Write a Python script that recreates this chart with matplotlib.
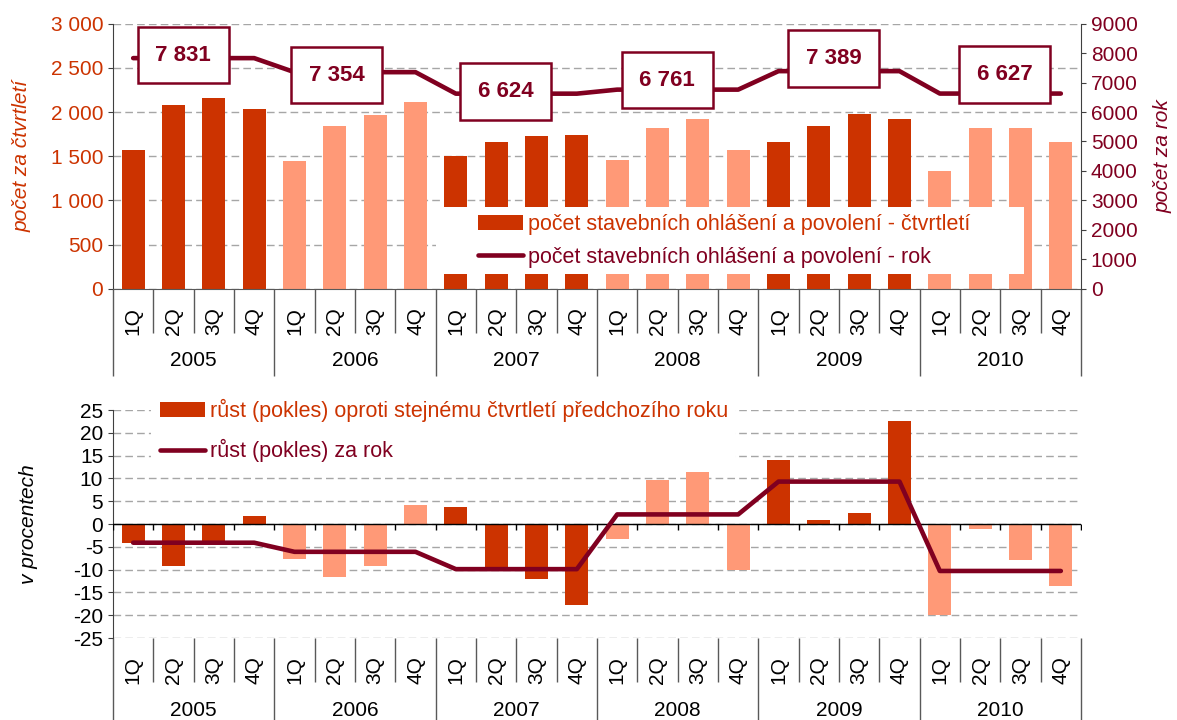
import matplotlib
matplotlib.use('Agg')
import matplotlib.pyplot as plt
from matplotlib.patches import Rectangle, Patch
from matplotlib.lines import Line2D
from matplotlib.ticker import FuncFormatter
import numpy as np

plt.rcParams['font.family'] = ['Liberation Sans', 'DejaVu Sans']
plt.rcParams['axes.unicode_minus'] = False

# ---------------- data ----------------
quarters = ['1Q', '2Q', '3Q', '4Q']
years = ['2005', '2006', '2007', '2008', '2009', '2010']
quarterly_count = [1566, 2077, 2155, 2033,
                   1443, 1838, 1962, 2111,
                   1500, 1659, 1726, 1739,
                   1455, 1817, 1919, 1570,
                   1658, 1838, 1974, 1919,
                   1331, 1818, 1818, 1660]
annual_count = [7831, 7354, 6624, 6761, 7389, 6627]
quarterly_growth = [-4.1, -9.3, -4.3, 1.8,
                    -7.6, -11.7, -9.3, 4.2,
                    3.7, -9.7, -12.0, -17.7,
                    -3.2, 9.6, 11.4, -10.0,
                    14.0, 0.9, 2.4, 22.5,
                    -20.0, -1.0, -7.9, -13.6]
annual_growth = [-4.1, -6.1, -9.9, 2.1, 9.3, -10.3]

label_q = 'počet stavebních ohlášení a povolení - čtvrtletí'
label_y = 'počet stavebních ohlášení a povolení - rok'
label_gq = 'růst (pokles) oproti stejnému čtvrtletí předchozího roku'
label_gy = 'růst (pokles) za rok'

# ---------------- style ----------------
DARK = '#CC3300'
LIGHT = '#FF9977'
WINE = '#800020'
GRID = '#A6A6A6'
AXC = '#404040'
FS = 15
W, H = 1177, 720

fig = plt.figure(figsize=(W / 100, H / 100), dpi=100)


def px_axes(x0, y0, x1, y1):
    return fig.add_axes([x0 / W, 1 - y1 / H, (x1 - x0) / W, (y1 - y0) / H])


nq = len(quarters)
n = len(years) * nq
x = np.arange(n)
bar_colors = [DARK if (i // nq) % 2 == 0 else LIGHT for i in range(n)]
annual_count_q = np.repeat(annual_count, nq)
annual_growth_q = np.repeat(annual_growth, nq)
bounds = np.arange(-0.5, n, 1.0)
BW = 0.57
PT = 0.72  # points per pixel


def category_axis(ax):
    ax.set_xlim(-0.5, n - 0.5)
    ax.set_xticks(bounds[::nq])
    ax.set_xticks(bounds, minor=True)
    ax.set_xticklabels([])
    ax.tick_params(axis='x', which='major', direction='out', length=87 * PT,
                   width=1, color='#595959')
    ax.tick_params(axis='x', which='minor', direction='out', length=44 * PT,
                   width=1, color='#595959')
    for i in range(n):
        ax.annotate(quarters[i % nq], xy=(i, 0), xycoords=('data', 'axes fraction'),
                    xytext=(0, -32 * PT), textcoords='offset points', rotation=90,
                    ha='center', va='center', fontsize=FS, color='black')
    for k, yr in enumerate(years):
        ax.annotate(yr, xy=(k * nq + (nq - 1) / 2, 0), xycoords=('data', 'axes fraction'),
                    xytext=(0, -72 * PT), textcoords='offset points',
                    ha='center', va='center', fontsize=FS, color='black')


def ylabel_at(ax, text, xpx, color):
    ax.text((xpx - 113) / 968, 0.5, text, transform=ax.transAxes, rotation=90,
            ha='center', va='center', fontsize=FS, style='italic', color=color)


# ---------------- top chart ----------------
ax1 = px_axes(113, 23.7, 1081, 288.7)
ax1.bar(x, quarterly_count, width=BW, color=bar_colors, zorder=2)
ax1.set_ylim(0, 3000)
ax1.set_yticks(np.arange(0, 3001, 500))
ax1.yaxis.set_major_formatter(FuncFormatter(lambda v, p: f'{int(v):,}'.replace(',', ' ')))
ax1.tick_params(axis='y', direction='out', length=5 * PT, color=AXC,
                labelcolor=DARK, labelsize=FS)
ax1.yaxis.grid(True, linestyle=(0, (5.5, 3)), color=GRID, lw=1)
ax1.set_axisbelow(True)
for s in ['top', 'right']:
    ax1.spines[s].set_visible(False)
ax1.spines['left'].set_color(AXC)
ax1.spines['bottom'].set_color('#595959')
category_axis(ax1)
ylabel_at(ax1, 'počet za čtvrtletí', 22, DARK)

ax2 = ax1.twinx()
ax2.plot(x, annual_count_q, color=WINE, lw=3.3, solid_capstyle='round', zorder=3)
ax2.set_ylim(0, 9000)
ax2.set_yticks(np.arange(0, 9001, 1000))
ax2.tick_params(axis='y', direction='out', length=5 * PT, color=AXC,
                labelcolor=WINE, labelsize=FS)
for s in ['top', 'left', 'bottom']:
    ax2.spines[s].set_visible(False)
ax2.spines['right'].set_color(AXC)
ylabel_at(ax2, 'počet za rok', 1163, WINE)

box_offsets = [(50, 3), (42, -3), (50, 2), (50, 9.6), (55, 12.8), (65, 19)]
for k, v in enumerate(annual_count):
    dx, dy = box_offsets[k]
    ax2.annotate(f'{v:,}'.replace(',', ' '), xy=(k * nq, v),
                 xytext=(dx * PT, dy * PT), textcoords='offset points',
                 ha='center', va='center', fontsize=16, fontweight='bold', color=WINE,
                 bbox=dict(boxstyle='square,pad=0.8', fc='white', ec=WINE, lw=1.8),
                 zorder=5)

# legend area (white box covering bars)
fig.add_artist(Rectangle((436 / W, 1 - 274 / H), (1024 - 436) / W, (274 - 207) / H,
                         transform=fig.transFigure, facecolor='white',
                         edgecolor='none', zorder=1))
fig.legend(handles=[Patch(facecolor=DARK, edgecolor='none'),
                    Line2D([], [], color=WINE, lw=3.3, solid_capstyle='round')],
           labels=[label_q, label_y], loc='upper left',
           bbox_to_anchor=(478 / W, 1 - 214 / H), bbox_transform=fig.transFigure,
           frameon=False, borderpad=0, borderaxespad=0, fontsize=15.5,
           handlelength=2.1, handletextpad=0.2, labelspacing=0.55,
           labelcolor=[DARK, WINE])

# ---------------- bottom chart ----------------
ax3 = px_axes(113, 410, 1081, 638)
ax3.bar(x, quarterly_growth, width=BW, color=bar_colors, zorder=2)
ax3.axhline(0, color='black', lw=1, zorder=3)
ax3.plot(bounds, np.zeros_like(bounds), ls='none', marker=3, ms=6 * PT,
         mew=1, color='black', zorder=3)
ax3.plot(x, annual_growth_q, color=WINE, lw=3.3, solid_capstyle='round', zorder=4)
ax3.set_ylim(-25, 25)
ax3.set_yticks(np.arange(-25, 26, 5))
ax3.tick_params(axis='y', direction='out', length=5 * PT, color=AXC,
                labelcolor='black', labelsize=FS)
ax3.yaxis.grid(True, linestyle=(0, (5.5, 3)), color=GRID, lw=1)
ax3.set_axisbelow(True)
for s in ['top', 'right', 'bottom']:
    ax3.spines[s].set_visible(False)
ax3.spines['left'].set_color(AXC)
category_axis(ax3)
ylabel_at(ax3, 'v procentech', 28, 'black')

fig.add_artist(Rectangle((151 / W, 1 - 466 / H), (735 - 151) / W, (466 - 398) / H,
                         transform=fig.transFigure, facecolor='white',
                         edgecolor='none', zorder=1))
fig.legend(handles=[Patch(facecolor=DARK, edgecolor='none'),
                    Line2D([], [], color=WINE, lw=3.3, solid_capstyle='round')],
           labels=[label_gq, label_gy], loc='upper left',
           bbox_to_anchor=(160 / W, 1 - 399 / H), bbox_transform=fig.transFigure,
           frameon=False, borderpad=0, borderaxespad=0, fontsize=15.5,
           handlelength=2.1, handletextpad=0.2, labelspacing=0.8,
           labelcolor=[DARK, WINE])

fig.savefig('out.png', dpi=100)
